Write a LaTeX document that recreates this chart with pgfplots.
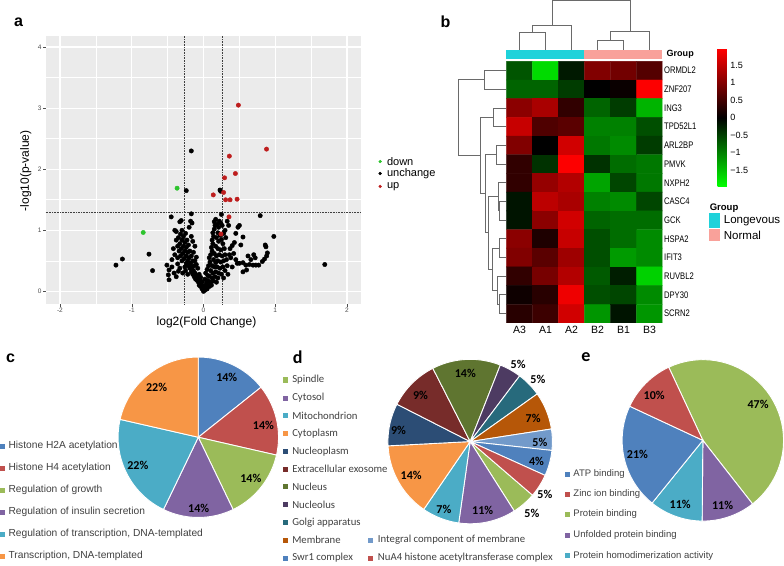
\documentclass[border=0pt]{standalone}
\usepackage{pgfplots}
\pgfplotsset{compat=1.18}
\usepackage{fontspec}
\setmainfont{Liberation Sans}
\newfontfamily\calibri{Carlito}
\newfontfamily\narrowsans[FakeStretch=0.8]{Liberation Sans}
\definecolor{xblue}{HTML}{4F81BD}
\definecolor{xred}{HTML}{C0504D}
\definecolor{xgreen}{HTML}{9BBB59}
\definecolor{xpurple}{HTML}{8064A2}
\definecolor{xteal}{HTML}{4BACC6}
\definecolor{xorange}{HTML}{F79646}
\definecolor{xnavy}{HTML}{2C4D75}
\definecolor{xmaroon}{HTML}{772C2A}
\definecolor{xolive}{HTML}{5F7530}
\definecolor{xdpurple}{HTML}{4D3B62}
\definecolor{xdteal}{HTML}{276A7C}
\definecolor{xdorange}{HTML}{B65708}
\definecolor{xlblue}{HTML}{729ACA}
\definecolor{ggbg}{HTML}{EBEBEB}
\definecolor{ggtick}{HTML}{4D4D4D}
\definecolor{vred}{HTML}{BE1E1E}
\definecolor{vgreen}{HTML}{2DC42D}
\definecolor{grpcyan}{HTML}{1FD2DA}
\definecolor{grpsalmon}{HTML}{F9A19A}
\definecolor{dendgray}{HTML}{6A6A6A}
\definecolor{legtext}{HTML}{404040}
\pgfplotsset{
  dendro/.style={draw=dendgray, line width=0.9pt, mark=none},
  slice/.style={fill=#1, draw=white, line width=0.9pt, samples=40, mark=none},
  ggmajor/.style={draw=white, line width=1.3pt, mark=none},
  ggminor/.style={draw=white, line width=0.7pt, mark=none},
}
\begin{document}
\begin{tikzpicture}
% ---------------- canvas (pixel coordinates, y down) ----------------
\begin{axis}[name=canvas, at={(0pt,0pt)}, anchor=south west, scale only axis,
  width=784pt, height=563pt, xmin=0, xmax=784, ymin=0, ymax=563, y dir=reverse,
  hide axis, clip=false]
% panel letters
\node[font=\bfseries\fontsize{16}{18}\selectfont] at (axis cs:20,23) {a};
\node[font=\bfseries\fontsize{16}{18}\selectfont] at (axis cs:446,22) {b};
\node[font=\bfseries\fontsize{16}{18}\selectfont] at (axis cs:12,358) {c};
\node[font=\calibri\bfseries\fontsize{18}{20}\selectfont] at (axis cs:298.5,357) {d};
\node[font=\calibri\bfseries\fontsize{18}{20}\selectfont] at (axis cs:586,357) {e};
% volcano titles
\node[rotate=90, font=\fontsize{12}{14}\selectfont] at (axis cs:27.3,171) {-log10(p-value)};
\node[font=\fontsize{12}{14}\selectfont] at (axis cs:207.5,321.7) {log2(Fold Change)};
% volcano legend
\addplot[only marks, mark=*, mark size=1.4pt, color=vgreen] coordinates {(380.7,161.7)};
\addplot[only marks, mark=*, mark size=1.4pt, color=black] coordinates {(380.7,173.6)};
\addplot[only marks, mark=*, mark size=1.4pt, color=vred] coordinates {(380.7,186.5)};
\node[anchor=west, font=\fontsize{11}{13}\selectfont] at (axis cs:384,161.7) {down};
\node[anchor=west, font=\fontsize{11}{13}\selectfont] at (axis cs:384,173.6) {unchange};
\node[anchor=west, font=\fontsize{11}{13}\selectfont] at (axis cs:384,186.5) {up};
% heatmap group bar
\addplot[fill=grpcyan, draw=none] coordinates {(506.7,50) (584.5,50) (584.5,59.3) (506.7,59.3)};
\addplot[fill=grpsalmon, draw=none] coordinates {(584.5,50) (662.3,50) (662.3,59.3) (584.5,59.3)};
\node[anchor=west, font=\bfseries\fontsize{9}{10}\selectfont] at (axis cs:663,55) {Group};
% column dendrogram
\addplot[dendro] coordinates {(519.7,50) (519.7,33.3) (545.6,33.3) (545.6,50)};
\addplot[dendro] coordinates {(532.7,33.3) (532.7,26) (571.5,26) (571.5,50)};
\addplot[dendro] coordinates {(597.5,50) (597.5,41) (623.4,41) (623.4,50)};
\addplot[dendro] coordinates {(610.5,41) (610.5,32.3) (649.3,32.3) (649.3,50)};
\addplot[dendro] coordinates {(552.1,26) (552.1,1) (629.9,1) (629.9,32.3)};
% row dendrogram
\addplot[dendro] coordinates {(506.7,71.0) (484.3,71.0) (484.3,89.6) (506.7,89.6)};
\addplot[dendro] coordinates {(506.7,108.3) (493.3,108.3) (493.3,126.9) (506.7,126.9)};
\addplot[dendro] coordinates {(506.7,145.6) (496.7,145.6) (496.7,164.2) (506.7,164.2)};
\addplot[dendro] coordinates {(506.7,201.5) (499.3,201.5) (499.3,220.1) (506.7,220.1)};
\addplot[dendro] coordinates {(506.7,182.8) (498.3,182.8) (498.3,210.8) (499.3,210.8)};
\addplot[dendro] coordinates {(506.7,238.8) (500,238.8) (500,257.4) (506.7,257.4)};
\addplot[dendro] coordinates {(506.7,294.7) (499.3,294.7) (499.3,313.3) (506.7,313.3)};
\addplot[dendro] coordinates {(506.7,276.0) (497.3,276.0) (497.3,304.0) (499.3,304.0)};
\addplot[dendro] coordinates {(500,248.1) (492.3,248.1) (492.3,290) (497.3,290)};
\addplot[dendro] coordinates {(498.3,196.8) (489,196.8) (489,269.05) (492.3,269.05)};
\addplot[dendro] coordinates {(496.7,154.9) (485.7,154.9) (485.7,232.9) (489,232.9)};
\addplot[dendro] coordinates {(493.3,117.6) (481,117.6) (481,193.9) (485.7,193.9)};
\addplot[dendro] coordinates {(484.3,80.3) (459,80.3) (459,155.75) (481,155.75)};
% group legend
\node[anchor=west, font=\bfseries\fontsize{9.5}{11}\selectfont] at (axis cs:706,208) {Group};
\addplot[fill=grpcyan, draw=none] coordinates {(708.7,213) (720,213) (720,228.3) (708.7,228.3)};
\addplot[fill=grpsalmon, draw=none] coordinates {(708.7,229) (720,229) (720,241) (708.7,241)};
\node[anchor=west, font=\fontsize{11.5}{13}\selectfont] at (axis cs:720,220.3) {Longevous};
\node[anchor=west, font=\fontsize{11.5}{13}\selectfont] at (axis cs:720,235.5) {Normal};
% ---------------- pie c ----------------
\addplot[slice=xblue,   domain=0:51.43]      ({199.3+80*sin(x)},{436.7-80*cos(x)}) -- (axis cs:199.3,436.7) -- cycle;
\addplot[slice=xred,    domain=51.43:102.86] ({199.3+80*sin(x)},{436.7-80*cos(x)}) -- (axis cs:199.3,436.7) -- cycle;
\addplot[slice=xgreen,  domain=102.86:154.29]({199.3+80*sin(x)},{436.7-80*cos(x)}) -- (axis cs:199.3,436.7) -- cycle;
\addplot[slice=xpurple, domain=154.29:205.71]({199.3+80*sin(x)},{436.7-80*cos(x)}) -- (axis cs:199.3,436.7) -- cycle;
\addplot[slice=xteal,   domain=205.71:282.86]({199.3+80*sin(x)},{436.7-80*cos(x)}) -- (axis cs:199.3,436.7) -- cycle;
\addplot[slice=xorange, domain=282.86:360]   ({199.3+80*sin(x)},{436.7-80*cos(x)}) -- (axis cs:199.3,436.7) -- cycle;
\begin{scope}[font=\calibri\bfseries\fontsize{12}{14}\selectfont]
\node at (axis cs:227.7,377.3) {14\%};
\node at (axis cs:264.3,425) {14\%};
\node at (axis cs:251.7,477.3) {14\%};
\node at (axis cs:199.7,507.7) {14\%};
\node at (axis cs:139,465) {22\%};
\node at (axis cs:157.7,387.3) {22\%};
\end{scope}
% legend c
\addplot[only marks, mark=square*, mark size=2pt, color=xblue]   coordinates {(3.5,445.7)};
\addplot[only marks, mark=square*, mark size=2pt, color=xred]    coordinates {(3.5,467.3)};
\addplot[only marks, mark=square*, mark size=2pt, color=xgreen]  coordinates {(3.5,489.3)};
\addplot[only marks, mark=square*, mark size=2pt, color=xpurple] coordinates {(3.5,511.3)};
\addplot[only marks, mark=square*, mark size=2pt, color=xteal]   coordinates {(3.5,533.3)};
\addplot[only marks, mark=square*, mark size=2pt, color=xorange] coordinates {(3.5,555)};
\begin{scope}[font=\fontsize{10.2}{12}\selectfont, text=legtext]
\node[anchor=west] at (axis cs:6.5,445.7) {Histone H2A acetylation};
\node[anchor=west] at (axis cs:6.5,467.3) {Histone H4 acetylation};
\node[anchor=west] at (axis cs:6.5,489.3) {Regulation of growth};
\node[anchor=west] at (axis cs:6.5,511.3) {Regulation of insulin secretion};
\node[anchor=west] at (axis cs:6.5,533.3) {Regulation of transcription, DNA-templated};
\node[anchor=west] at (axis cs:6.5,555) {Transcription, DNA-templated};
\end{scope}
% ---------------- pie d ----------------
\addplot[slice=xgreen,   domain=130.7:147.6] ({470.5+82*sin(x)},{441-82*cos(x)}) -- (axis cs:470.5,441) -- cycle;
\addplot[slice=xpurple,  domain=147.6:188]   ({470.5+82*sin(x)},{441-82*cos(x)}) -- (axis cs:470.5,441) -- cycle;
\addplot[slice=xteal,    domain=188:214.4]   ({470.5+82*sin(x)},{441-82*cos(x)}) -- (axis cs:470.5,441) -- cycle;
\addplot[slice=xorange,  domain=214.4:267]   ({470.5+82*sin(x)},{441-82*cos(x)}) -- (axis cs:470.5,441) -- cycle;
\addplot[slice=xnavy,    domain=267:297]     ({470.5+82*sin(x)},{441-82*cos(x)}) -- (axis cs:470.5,441) -- cycle;
\addplot[slice=xmaroon,  domain=297:333]     ({470.5+82*sin(x)},{441-82*cos(x)}) -- (axis cs:470.5,441) -- cycle;
\addplot[slice=xolive,   domain=333:381.5]   ({470.5+82*sin(x)},{441-82*cos(x)}) -- (axis cs:470.5,441) -- cycle;
\addplot[slice=xdpurple, domain=381.5:397]   ({470.5+82*sin(x)},{441-82*cos(x)}) -- (axis cs:470.5,441) -- cycle;
\addplot[slice=xdteal,   domain=397:414.6]   ({470.5+82*sin(x)},{441-82*cos(x)}) -- (axis cs:470.5,441) -- cycle;
\addplot[slice=xdorange, domain=414.6:441.2] ({470.5+82*sin(x)},{441-82*cos(x)}) -- (axis cs:470.5,441) -- cycle;
\addplot[slice=xlblue,   domain=441.2:456.2] ({470.5+82*sin(x)},{441-82*cos(x)}) -- (axis cs:470.5,441) -- cycle;
\addplot[slice=xblue,    domain=456.2:474.3] ({470.5+82*sin(x)},{441-82*cos(x)}) -- (axis cs:470.5,441) -- cycle;
\addplot[slice=xred,     domain=474.3:490.7] ({470.5+82*sin(x)},{441-82*cos(x)}) -- (axis cs:470.5,441) -- cycle;
\begin{scope}[font=\calibri\bfseries\fontsize{12}{14}\selectfont]
\node at (axis cs:465.7,373.3) {14\%};
\node at (axis cs:518.3,364) {5\%};
\node at (axis cs:538,379.3) {5\%};
\node at (axis cs:533.3,417.7) {7\%};
\node at (axis cs:540,441.7) {5\%};
\node at (axis cs:536.7,460.7) {4\%};
\node at (axis cs:545,494) {5\%};
\node at (axis cs:532,512.3) {5\%};
\node at (axis cs:483,510) {11\%};
\node at (axis cs:444.3,508.3) {7\%};
\node at (axis cs:411.7,474.3) {14\%};
\node at (axis cs:399,430) {9\%};
\node at (axis cs:421,395) {9\%};
\end{scope}
% legend d
\addplot[only marks, mark=square*, mark size=2pt, color=xgreen]   coordinates {(285.5,379.3)};
\addplot[only marks, mark=square*, mark size=2pt, color=xpurple]  coordinates {(285.5,397.3)};
\addplot[only marks, mark=square*, mark size=2pt, color=xteal]    coordinates {(285.5,415)};
\addplot[only marks, mark=square*, mark size=2pt, color=xorange]  coordinates {(285.5,432.7)};
\addplot[only marks, mark=square*, mark size=2pt, color=xnavy]    coordinates {(285.5,450.7)};
\addplot[only marks, mark=square*, mark size=2pt, color=xmaroon]  coordinates {(285.5,468.3)};
\addplot[only marks, mark=square*, mark size=2pt, color=xolive]   coordinates {(285.5,486)};
\addplot[only marks, mark=square*, mark size=2pt, color=xdpurple] coordinates {(285.5,503.7)};
\addplot[only marks, mark=square*, mark size=2pt, color=xdteal]   coordinates {(285.5,521.7)};
\addplot[only marks, mark=square*, mark size=2pt, color=xdorange] coordinates {(285.5,539.3)};
\addplot[only marks, mark=square*, mark size=2pt, color=xblue]    coordinates {(285.5,557)};
\addplot[only marks, mark=square*, mark size=2pt, color=xlblue]   coordinates {(371,539.3)};
\addplot[only marks, mark=square*, mark size=2pt, color=xred]     coordinates {(371,557)};
\begin{scope}[font=\calibri\fontsize{10.7}{12}\selectfont, text=legtext]
\node[anchor=west] at (axis cs:289.5,379.3) {Spindle};
\node[anchor=west] at (axis cs:289.5,397.3) {Cytosol};
\node[anchor=west] at (axis cs:289.5,415) {Mitochondrion};
\node[anchor=west] at (axis cs:289.5,432.7) {Cytoplasm};
\node[anchor=west] at (axis cs:289.5,450.7) {Nucleoplasm};
\node[anchor=west] at (axis cs:289.5,468.3) {Extracellular exosome};
\node[anchor=west] at (axis cs:289.5,486) {Nucleus};
\node[anchor=west] at (axis cs:289.5,503.7) {Nucleolus};
\node[anchor=west] at (axis cs:289.5,521.7) {Golgi apparatus};
\node[anchor=west] at (axis cs:289.5,539.3) {Membrane};
\node[anchor=west] at (axis cs:289.5,557) {Swr1 complex};
\node[anchor=west] at (axis cs:375,539.3) {Integral component of membrane};
\node[anchor=west] at (axis cs:375,557) {NuA4 histone acetyltransferase complex};
\end{scope}
% ---------------- pie e ----------------
\addplot[slice=xgreen,  domain=335:502]   ({702.6+80.5*sin(x)},{439.8-80.5*cos(x)}) -- (axis cs:702.6,439.8) -- cycle;
\addplot[slice=xpurple, domain=142:180.5] ({702.6+80.5*sin(x)},{439.8-80.5*cos(x)}) -- (axis cs:702.6,439.8) -- cycle;
\addplot[slice=xteal,   domain=180.5:219] ({702.6+80.5*sin(x)},{439.8-80.5*cos(x)}) -- (axis cs:702.6,439.8) -- cycle;
\addplot[slice=xblue,   domain=219:295]   ({702.6+80.5*sin(x)},{439.8-80.5*cos(x)}) -- (axis cs:702.6,439.8) -- cycle;
\addplot[slice=xred,    domain=295:335]   ({702.6+80.5*sin(x)},{439.8-80.5*cos(x)}) -- (axis cs:702.6,439.8) -- cycle;
\begin{scope}[font=\calibri\bfseries\fontsize{12}{14}\selectfont]
\node at (axis cs:654,395) {10\%};
\node at (axis cs:757.7,404.3) {47\%};
\node at (axis cs:637.3,454) {21\%};
\node at (axis cs:680,503.3) {11\%};
\node at (axis cs:722.3,505) {11\%};
\end{scope}
% legend e
\addplot[only marks, mark=square*, mark size=2pt, color=xblue]   coordinates {(567,473.3)};
\addplot[only marks, mark=square*, mark size=2pt, color=xred]    coordinates {(567,493.3)};
\addplot[only marks, mark=square*, mark size=2pt, color=xgreen]  coordinates {(567,513.7)};
\addplot[only marks, mark=square*, mark size=2pt, color=xpurple] coordinates {(567,534.3)};
\addplot[only marks, mark=square*, mark size=2pt, color=xteal]   coordinates {(567,554.7)};
\begin{scope}[font=\fontsize{9.5}{11}\selectfont, text=legtext]
\node[anchor=west] at (axis cs:570,473.3) {ATP binding};
\node[anchor=west] at (axis cs:570,493.3) {Zinc ion binding};
\node[anchor=west] at (axis cs:570,513.7) {Protein binding};
\node[anchor=west] at (axis cs:570,534.3) {Unfolded protein binding};
\node[anchor=west] at (axis cs:570,554.7) {Protein homodimerization activity};
\end{scope}
\end{axis}
% ---------------- volcano plot ----------------
\begin{axis}[at={(47pt,259pt)}, anchor=south west, scale only axis,
  width=315pt, height=268pt,
  xmin=-2.2, xmax=2.2, ymin=-0.21, ymax=4.19,
  axis background/.style={fill=ggbg},
  axis line style={draw=none},
  xtick={-2,-1,0,1,2}, ytick={0,1,2,3,4},
  tick align=outside, major tick length=2.5pt,
  major tick style={ggtick, line width=0.4pt},
  xtick pos=bottom, ytick pos=left,
  tick label style={font=\fontsize{6.5}{7}\selectfont, text=ggtick, inner sep=1.5pt},
  /pgf/number format/assume math mode=true,
  clip=true]
% ggplot panel grid (minor, then major)
\addplot[ggminor] coordinates {(-1.5,-0.21) (-1.5,4.19)};
\addplot[ggminor] coordinates {(-0.5,-0.21) (-0.5,4.19)};
\addplot[ggminor] coordinates {(0.5,-0.21) (0.5,4.19)};
\addplot[ggminor] coordinates {(1.5,-0.21) (1.5,4.19)};
\addplot[ggminor] coordinates {(-2.2,0.5) (2.2,0.5)};
\addplot[ggminor] coordinates {(-2.2,1.5) (2.2,1.5)};
\addplot[ggminor] coordinates {(-2.2,2.5) (2.2,2.5)};
\addplot[ggminor] coordinates {(-2.2,3.5) (2.2,3.5)};
\addplot[ggmajor] coordinates {(-2,-0.21) (-2,4.19)};
\addplot[ggmajor] coordinates {(-1,-0.21) (-1,4.19)};
\addplot[ggmajor] coordinates {(0,-0.21) (0,4.19)};
\addplot[ggmajor] coordinates {(1,-0.21) (1,4.19)};
\addplot[ggmajor] coordinates {(2,-0.21) (2,4.19)};
\addplot[ggmajor] coordinates {(-2.2,0) (2.2,0)};
\addplot[ggmajor] coordinates {(-2.2,1) (2.2,1)};
\addplot[ggmajor] coordinates {(-2.2,2) (2.2,2)};
\addplot[ggmajor] coordinates {(-2.2,3) (2.2,3)};
\addplot[ggmajor] coordinates {(-2.2,4) (2.2,4)};
% threshold lines
\addplot[densely dotted, line width=0.6pt, color=black!75] coordinates {(-0.263,-0.21) (-0.263,4.19)};
\addplot[densely dotted, line width=0.6pt, color=black!75] coordinates {(0.263,-0.21) (0.263,4.19)};
\addplot[densely dotted, line width=0.6pt, color=black!75] coordinates {(-2.2,1.301) (2.2,1.301)};
\addplot[only marks, mark=*, mark size=2.2pt, color=black] table {
x y
-1.22 0.43
-1.13 0.53
-0.76 0.61
-0.71 0.34
-0.17 2.30
-0.24 1.65
0.24 1.64
0.23 1.66
-0.17 1.27
-0.45 1.22
0.79 1.24
0.98 0.90
1.69 0.44
0.25 1.26
-0.51 0.43
-0.48 0.35
-0.49 0.27
-0.48 0.19
-0.44 0.40
-0.41 0.30
-0.38 0.24
-0.35 0.33
0.86 0.76
0.87 0.73
0.89 0.63
0.88 0.58
0.85 0.53
0.82 0.49
0.77 0.43
0.73 0.43
0.69 0.43
0.64 0.44
0.72 0.55
0.70 0.60
0.66 0.52
0.55 0.89
0.47 0.46
0.55 0.32
0.59 0.43
0.55 0.47
0.50 0.46
0.62 0.58
0.60 0.35
0.37 0.70
0.40 0.75
0.43 0.80
0.45 0.95
0.48 1.05
0.50 1.08
0.52 0.76
0.35 1.08
0.33 1.15
0.30 1.00
0.31 0.88
0.28 0.95
0.36 0.60
0.38 0.55
0.42 0.62
0.45 0.52
0.40 0.40
0.33 0.42
0.03 0.30
0.05 0.36
0.07 0.42
0.09 0.48
0.08 0.55
0.10 0.60
0.12 0.66
0.11 0.72
0.13 0.78
0.12 0.84
0.14 0.90
0.13 0.96
0.15 1.02
0.16 1.08
0.15 1.14
0.17 1.18
0.19 1.10
0.21 1.05
0.22 1.15
0.24 1.12
0.26 1.08
0.20 0.96
0.23 0.92
0.18 0.88
0.21 0.82
0.25 0.85
0.27 0.78
0.17 0.74
0.20 0.70
0.24 0.68
0.29 0.70
0.15 0.62
0.18 0.58
0.22 0.60
0.26 0.58
0.30 0.60
0.14 0.52
0.17 0.47
0.20 0.50
0.24 0.48
0.28 0.50
0.32 0.52
0.12 0.42
0.15 0.40
0.19 0.40
0.23 0.38
0.27 0.40
0.30 0.34
0.10 0.34
0.13 0.30
0.17 0.32
0.21 0.30
0.25 0.28
0.34 0.28
0.08 0.25
0.12 0.22
0.16 0.24
0.20 0.22
0.28 0.22
0.06 0.18
0.10 0.15
0.14 0.17
0.18 0.15
0.05 0.11
0.08 0.08
0.11 0.10
0.03 0.06
0.05 0.04
0.02 0.02
0.00 0.00
0.01 0.09
0.04 0.14
0.02 0.20
0.06 0.26
-0.02 0.04
-0.04 0.08
-0.03 0.12
-0.06 0.10
-0.07 0.15
-0.05 0.18
-0.09 0.18
-0.08 0.22
-0.11 0.20
-0.10 0.26
-0.13 0.24
-0.12 0.30
-0.15 0.28
-0.14 0.34
-0.17 0.32
-0.06 0.28
-0.04 0.23
-0.02 0.16
-0.16 0.40
-0.19 0.38
-0.13 0.42
-0.21 0.42
-0.18 0.46
-0.15 0.50
-0.22 0.50
-0.24 0.46
-0.26 0.40
-0.20 0.55
-0.17 0.58
-0.24 0.58
-0.27 0.54
-0.30 0.50
-0.22 0.64
-0.19 0.66
-0.26 0.66
-0.29 0.62
-0.32 0.58
-0.24 0.72
-0.21 0.76
-0.28 0.74
-0.31 0.70
-0.34 0.66
-0.26 0.80
-0.23 0.84
-0.30 0.84
-0.33 0.78
-0.36 0.74
-0.28 0.90
-0.25 0.95
-0.32 0.94
-0.35 0.88
-0.38 0.98
-0.40 1.00
-0.30 1.00
-0.33 1.14
-0.31 1.16
-0.18 1.15
-0.16 1.12
-0.20 1.05
-0.12 0.50
-0.10 0.56
-0.14 0.64
-0.12 0.74
-0.15 0.82
-0.17 0.90
-0.08 0.38
-0.10 0.44
-0.36 0.45
-0.33 0.38
-0.29 0.30
-0.25 0.34
-0.22 0.28
-0.40 0.60
-0.42 0.70
-0.38 0.84
-0.44 0.52
-0.36 0.55
};
\addplot[only marks, mark=*, mark size=2.2pt, color=vgreen] table {
x y
-0.368 1.69
-0.84 0.965
};
\addplot[only marks, mark=*, mark size=2.2pt, color=vred] table {
x y
0.486 3.05
0.878 2.33
0.36 2.215
0.444 1.93
0.294 1.86
0.136 1.58
0.28 1.62
0.308 1.50
0.37 1.50
0.468 1.51
0.355 1.22
0.243 0.94
};
\end{axis}
% ---------------- heatmap ----------------
\begin{axis}[at={(506.7pt,240.3pt)}, anchor=south west, scale only axis,
  width=155.6pt, height=261pt,
  xmin=-0.5, xmax=5.5, ymin=-0.5, ymax=13.5, y dir=reverse, enlargelimits=false,
  axis line style={draw=none}, major tick length=0pt,
  xtick={0,...,5}, xticklabels={A3,A1,A2,B2,B1,B3},
  ytick={0,...,13},
  yticklabels={ORMDL2,ZNF207,ING3,TPD52L1,ARL2BP,PMVK,NXPH2,CASC4,GCK,HSPA2,IFIT3,RUVBL2,DPY30,SCRN2},
  yticklabel pos=right,
  xticklabel style={font=\fontsize{10.5}{12}\selectfont},
  yticklabel style={font=\narrowsans\fontsize{9.5}{11}\selectfont, inner sep=1.5pt},
  colormap={rg}{rgb255=(0,255,0) rgb255=(0,0,0) rgb255=(255,0,0)},
  point meta min=-1.96, point meta max=1.96,
  colorbar,
  colorbar style={at={(parent axis.north east)}, anchor=north west,
    xshift=46.4pt, yshift=12.4pt, scale only axis,
    width=9.3pt, height=137.4pt,
    axis line style={draw=none}, major tick length=0pt,
    ytick={-1.5,-1,-0.5,0,0.5,1,1.5},
    yticklabels={−1.5,−1,−0.5,0,0.5,1,1.5},
    yticklabel style={font=\fontsize{9}{10}\selectfont}},
  ]
\addplot[matrix plot*, mesh/cols=6, point meta=explicit] table[meta=c] {
x y c
0 0 -0.65
1 0 -1.68
2 0 -0.19
3 0 0.99
4 0 0.88
5 0 0.65
0 1 -0.77
1 1 -0.77
2 1 -0.46
3 1 0.00
4 1 0.08
5 1 1.95
0 2 1.07
1 2 1.30
2 2 0.38
3 2 -0.77
4 2 -0.46
5 2 -1.38
0 3 1.53
1 3 0.61
2 3 0.69
3 3 -0.99
4 3 -0.99
5 3 -0.61
0 4 0.99
1 4 0.00
2 4 1.61
3 4 -0.92
4 4 -1.07
5 4 -0.46
0 5 0.38
1 5 -0.38
2 5 1.95
3 5 -0.38
4 5 -0.84
5 5 -0.92
0 6 0.38
1 6 1.15
2 6 1.38
3 6 -1.26
4 6 -0.54
5 6 -0.92
0 7 -0.15
1 7 1.45
2 7 1.30
3 7 -0.99
4 7 -1.07
5 7 -0.54
0 8 -0.15
1 8 1.07
2 8 1.61
3 8 -0.77
4 8 -0.84
5 8 -0.84
0 9 1.07
1 9 0.23
2 9 1.53
3 9 -0.61
4 9 -0.84
5 9 -1.07
0 10 0.99
1 10 0.69
2 10 1.22
3 10 -0.61
4 10 -1.19
5 10 -1.07
0 11 0.38
1 11 0.92
2 11 1.38
3 11 -0.69
4 11 -0.23
5 11 -1.61
0 12 0.11
1 12 0.31
2 12 1.84
3 12 -0.61
4 12 -0.54
5 12 -1.07
0 13 0.31
1 13 0.46
2 13 1.61
3 13 -1.15
4 13 -0.15
5 13 -1.15
};
\end{axis}
\end{tikzpicture}
\end{document}
